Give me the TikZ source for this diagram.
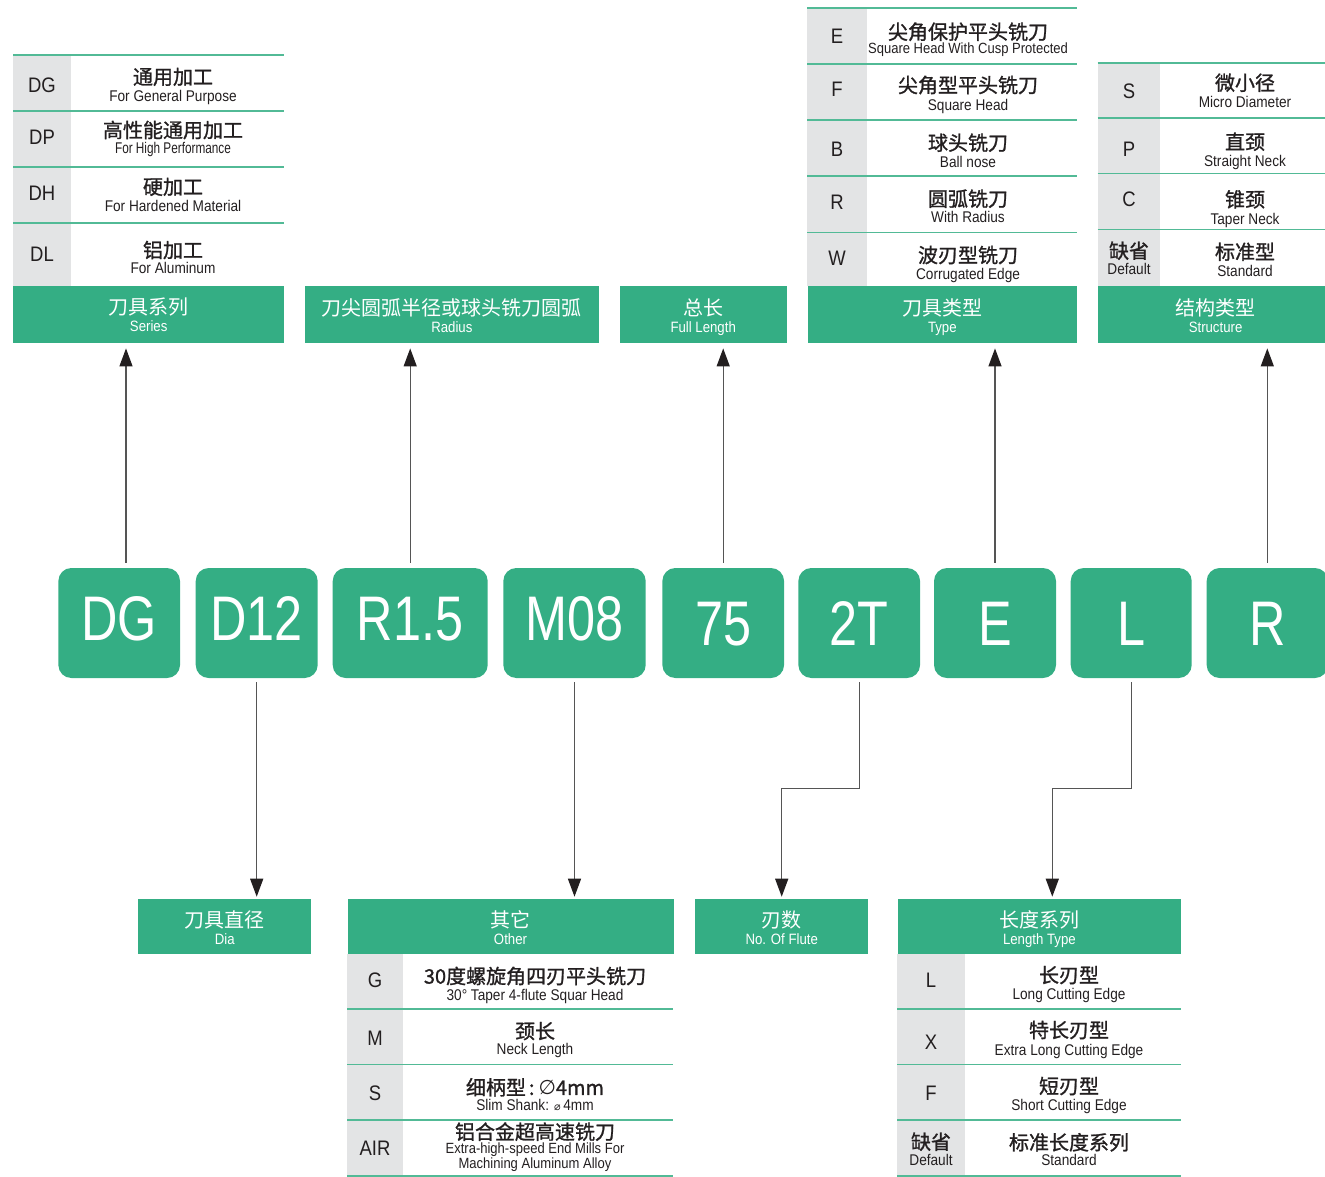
\documentclass[tikz,border=0pt]{standalone}
\usepackage{fontspec}
\setmainfont{Liberation Sans}
\newfontfamily\cjkf{Noto Sans CJK SC}
\newfontfamily\cjkb{Noto Sans CJK SC}[FakeBold=1.2]
\newfontfamily\codef{Liberation Sans}[FakeStretch=0.8]
\newfontfamily\enf{Liberation Sans}[FakeStretch=0.88]
\newfontfamily\narrowf{Liberation Sans}[FakeStretch=0.76]
\newfontfamily\symf{DejaVu Sans}
\usetikzlibrary{arrows.meta}
\definecolor{grn}{HTML}{34AE84}
\definecolor{gry}{HTML}{E3E4E5}
\definecolor{ink}{HTML}{231F20}
\definecolor{arrgray}{HTML}{555555}
\tikzset{
  cbox/.style={fill=grn, rounded corners=13pt, minimum height=110pt, inner sep=0pt, text=white,
    font=\codef\fontsize{63}{63}\selectfont, text height=45pt, text depth=0pt},
  cboxup/.style={cbox, text depth=11pt},
  hdrbox/.style={fill=grn, inner sep=0pt, anchor=north west},
  hcn/.style={text=white, font=\cjkf\fontsize{20}{20}\selectfont, inner sep=0pt, text height=17.6pt, text depth=2.4pt},
  hen/.style={text=white, font=\enf\fontsize{15}{15}\selectfont, inner sep=0pt, text height=10.7pt, text depth=0pt},
  codetxt/.style={text=ink, font=\enf\fontsize{21}{21}\selectfont, inner sep=0pt, text height=15pt, text depth=0pt},
  tcn/.style={text=ink, font=\cjkb\fontsize{20}{20}\selectfont, inner sep=0pt, text height=17.6pt, text depth=2.4pt},
  ten/.style={text=ink, font=\enf\fontsize{15.5}{15.5}\selectfont, inner sep=0pt, text height=11.1pt, text depth=0pt},
  sepline/.style={draw=grn!85, line width=1.6pt},
  arr/.style={draw=arrgray, line width=1.3pt, -{Triangle[length=18pt,width=13pt,color=ink]}},
}
\newcommand\hdr[7]{%
  \node[hdrbox, minimum width={#4-#2}, minimum height={#5-#3}] (#1) at (#2,#3) {};
  \node[hcn] (#1c) at ([yshift=-21.5pt]#1.north) {#6};
  \node[hen] (#1e) at ([yshift=-41pt]#1.north) {#7};}
\newcommand\trow[9]{%
  \node[codetxt] (#1k) at (#2,#4) {#7};
  \node[tcn] (#1c) at (#3,#5) {#8};
  \node[ten] (#1e) at (#3,#6) {#9};}
\begin{document}
\begin{tikzpicture}[x=1pt,y=-1pt]
\useasboundingbox (0,0) rectangle (1325,1176);

% ---------- Series table ----------
\fill[gry] (13,55) rectangle (71,285.5);
\foreach \yy in {55,111,167,223} \draw[sepline] (13,\yy) -- (284,\yy);
\hdr{hSeries}{13}{285.5}{284}{342.7}{刀具系列}{Series}
\trow{rDG}{42}{173}{85}{76.7}{95.7}{DG}{通用加工}{For General Purpose}
\trow{rDP}{42}{173}{137.3}{130}{148}{DP}{高性能通用加工}{\narrowf For High Performance}
\trow{rDH}{42}{173}{193}{186.7}{205.7}{DH}{硬加工}{For Hardened Material}
\trow{rDL}{42}{173}{254}{250}{268}{DL}{铝加工}{For Aluminum}

% ---------- Radius / Full length ----------
\hdr{hRad}{305}{286}{598.3}{342.7}{刀尖圆弧半径或球头铣刀圆弧}{Radius}
\hdr{hFull}{619.3}{286}{786.7}{342.7}{总长}{Full Length}

% ---------- Type table ----------
\fill[gry] (807.3,8) rectangle (866.7,286);
\foreach \yy in {8,64,120,176,232.3} \draw[sepline] (807.3,\yy) -- (1077,\yy);
\hdr{hType}{807.3}{286}{1077}{342.7}{刀具类型}{Type}
\trow{rE}{837}{968}{36}{31.7}{48.3}{E}{尖角保护平头铣刀}{\fontsize{14.8}{14.8}\selectfont Square Head With Cusp Protected}
\trow{rF}{837}{968}{89.3}{85}{105}{F}{尖角型平头铣刀}{Square Head}
\trow{rB}{837}{968}{149}{142.7}{162.3}{B}{球头铣刀}{Ball nose}
\trow{rR}{837}{968}{201.7}{198.7}{217.3}{R}{圆弧铣刀}{With Radius}
\trow{rW}{837}{968}{258.3}{255}{274}{W}{波刃型铣刀}{Corrugated Edge}

% ---------- Structure table ----------
\fill[gry] (1097.7,62.7) rectangle (1160,286);
\foreach \yy in {62.7,117.7,173.3,229.3} \draw[sepline] (1097.7,\yy) -- (1330,\yy);
\hdr{hStruct}{1097.7}{286}{1333}{342.7}{结构类型}{Structure}
\trow{rS}{1129}{1245}{90.7}{82.7}{101.7}{S}{微小径}{Micro Diameter}
\trow{rP}{1129}{1245}{149}{141.7}{161}{P}{直颈}{Straight Neck}
\trow{rC}{1129}{1245}{199.3}{199.3}{219}{C}{锥颈}{Taper Neck}
\node[tcn] (rDefk) at (1129,250.7) {缺省};
\node[ten] (rDefke) at (1129,269.3) {Default};
\node[tcn] (rDefc) at (1245,251.7) {标准型};
\node[ten] (rDefe) at (1245,270.7) {Standard};

% ---------- Code boxes ----------
\node[cboxup, minimum width=121.7pt] (bDG) at (119.2,623) {DG};
\node[cboxup, minimum width=122pt] (bD12) at (256.7,623) {D12};
\node[cboxup, minimum width=155pt] (bR15) at (410.2,623) {R1.5};
\node[cboxup, minimum width=142.4pt] (bM08) at (574.5,623) {M08};
\node[cbox, minimum width=121.7pt] (b75) at (723.2,623) {75};
\node[cbox, minimum width=121.7pt] (b2T) at (859.2,623) {2T};
\node[cbox, minimum width=122pt] (bE) at (995,623) {E};
\node[cbox, minimum width=121pt] (bL) at (1131.2,623) {L};
\node[cbox, minimum width=121.3pt] (bR) at (1267.3,623) {R};

% ---------- Bottom headers / tables ----------
\hdr{hDia}{138}{898.3}{311}{954}{刀具直径}{Dia}
\hdr{hFlute}{695}{898.3}{868}{954}{刃数}{No. Of Flute}

\fill[gry] (347.3,954) rectangle (402.7,1175.7);
\foreach \yy in {1009,1064.3,1120,1175.7} \draw[sepline] (347.3,\yy) -- (673.3,\yy);
\hdr{hOther}{347.3}{898.3}{673.3}{954}{其它}{Other}
\trow{rG}{375}{535}{980}{976}{995}{G}{30度螺旋角四刃平头铣刀}{30° Taper 4-flute Squar Head}
\trow{rM}{375}{535}{1038.3}{1031}{1049.3}{M}{颈长}{Neck Length}
\trow{rS2}{375}{535}{1093.3}{1087.3}{1105}{S}{细柄型\hspace{3pt}:\hspace{4pt}{\symf ∅}4mm}{Slim Shank: {\symf\fontsize{11}{11}\selectfont ⌀}\,4mm}
\trow{rAIR}{375}{535}{1148.3}{1131.7}{1148.3}{AIR}{铝合金超高速铣刀}{\fontsize{14.8}{14.8}\selectfont Extra-high-speed End Mills For}
\node[ten] (rAIRe2) at (535,1162.7) {\fontsize{14.8}{14.8}\selectfont Machining Aluminum Alloy};

\fill[gry] (897.3,954) rectangle (965,1175.7);
\foreach \yy in {1009,1064.3,1120,1175.7} \draw[sepline] (897.3,\yy) -- (1181,\yy);
\hdr{hLenT}{897.3}{898.3}{1181}{954}{长度系列}{Length Type}
\trow{rL}{931}{1069}{980}{975}{994.3}{L}{长刃型}{Long Cutting Edge}
\trow{rX}{931}{1069}{1041.7}{1030}{1050}{X}{特长刃型}{Extra Long Cutting Edge}
\trow{rF2}{931}{1069}{1093.3}{1086}{1105}{F}{短刃型}{Short Cutting Edge}
\node[tcn] (rDef2k) at (931,1141.7) {缺省};
\node[ten] (rDef2ke) at (931,1160) {Default};
\node[tcn] (rDef2c) at (1069,1142.3) {标准长度系列};
\node[ten] (rDef2e) at (1069,1160) {Standard};

% ---------- Connectors ----------
\coordinate (upDG) at ([xshift=6.8pt,yshift=5pt]bDG.north);
\draw[arr, shorten >=5.3pt] (upDG) -- (upDG |- hSeries.south);
\draw[arr, shorten >=5.3pt] ([yshift=5pt]bR15.north) -- (bR15.north |- hRad.south);
\draw[arr, shorten >=5.3pt] ([yshift=5pt]b75.north) -- (b75.north |- hFull.south);
\draw[arr, shorten >=5.3pt] ([yshift=5pt]bE.north) -- (bE.north |- hType.south);
\draw[arr, shorten >=5.3pt] ([yshift=5pt]bR.north) -- (bR.north |- hStruct.south);

\draw[arr, shorten >=1.6pt] ([yshift=-4pt]bD12.south) -- (bD12.south |- hDia.north);
\draw[arr, shorten >=1.6pt] ([yshift=-4pt]bM08.south) -- (bM08.south |- hOther.north);
\coordinate (kMid) at (0,788.3);
\draw[arr, shorten >=1.6pt] ([yshift=-4pt]b2T.south) -- (b2T.south |- kMid) -| (hFlute.north);
\coordinate (lenIn) at (1052.3,898.3);
\draw[arr, shorten >=1.6pt] ([yshift=-4pt]bL.south) -- (bL.south |- kMid) -| (lenIn);
\end{tikzpicture}
\end{document}
